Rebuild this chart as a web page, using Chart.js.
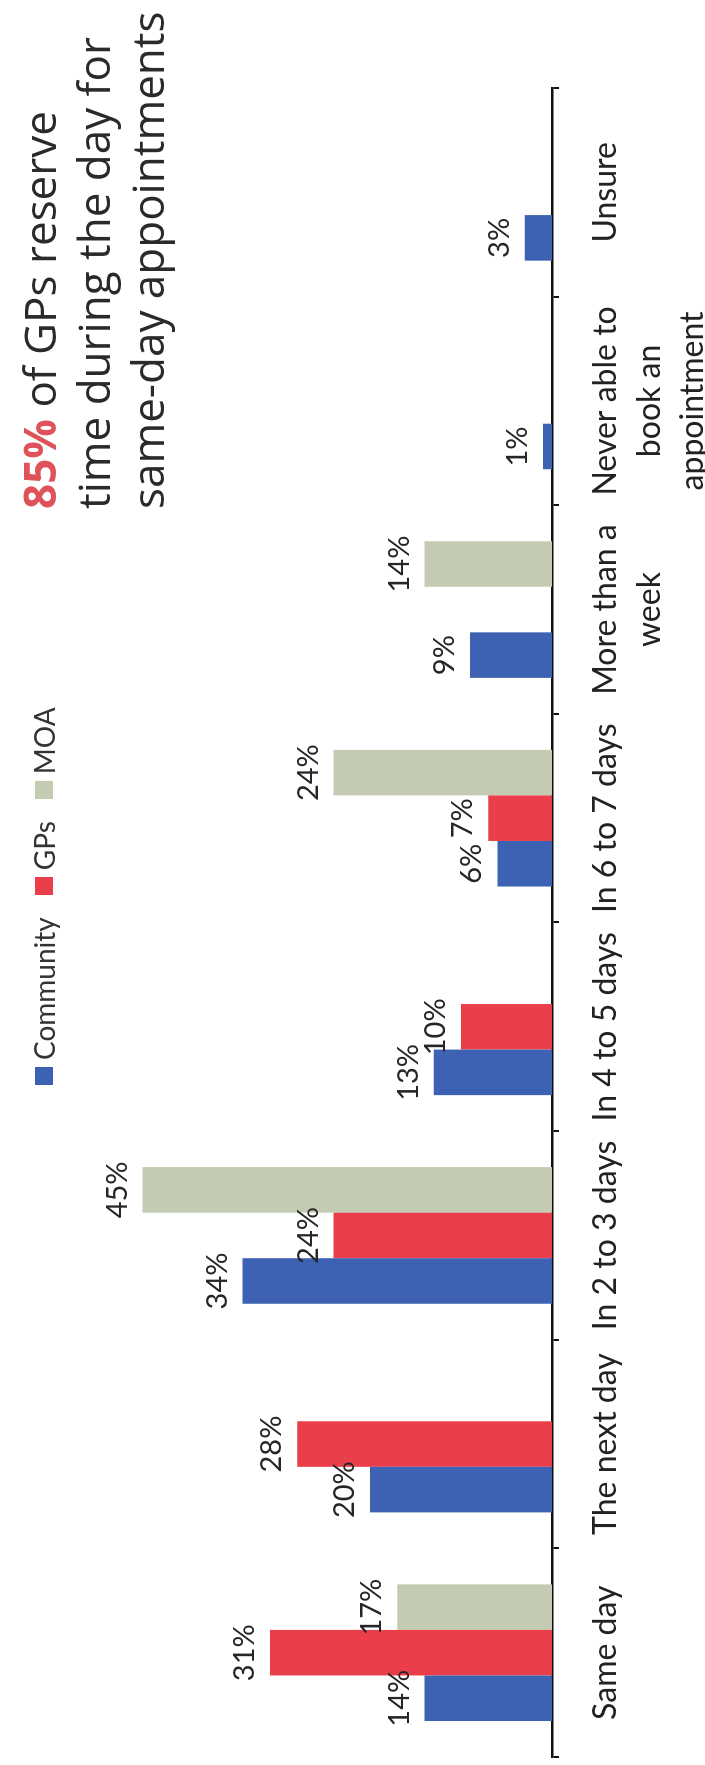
<!DOCTYPE html>
<html>
<head>
<meta charset="utf-8">
<title>Same-day appointments</title>
<script src="https://cdn.jsdelivr.net/npm/chart.js@4.4.1/dist/chart.umd.min.js"></script>
<style>
  html, body { margin: 0; padding: 0; background: #fff; }
  body { width: 705px; height: 1765px; overflow: hidden; position: relative; }
  /* the chart is drawn landscape and turned a quarter left */
  #stage { position: absolute; left: 0; top: 0; width: 1765px; height: 705px;
           transform-origin: 0 0; transform: translateY(1765px) rotate(-90deg); }
  #myChart { position: absolute; left: 0; top: 0; }
  #legend { position: absolute; left: 680px; top: 27px; display: flex; align-items: center;
            font: 28px 'Lato', sans-serif; color: #333; white-space: nowrap; }
  #legend .item { display: flex; align-items: center; margin-right: 22px; }
  #legend .box { width: 18px; height: 18px; margin-right: 7px; }
  #title { position: absolute; left: 1256px; top: 12px; font: 44px 'Open Sans', sans-serif;
           line-height: 54px; color: #2a2a2a; white-space: nowrap; }
  #title .hl { color: #e0525a; font-weight: 700; }
</style>
</head>
<body>
<div id="stage">
  <canvas id="myChart" width="1765" height="705"></canvas>
  <div id="legend"></div>
  <div id="title"><span class="hl">85%</span> of GPs reserve<br>time during the day for<br>same-day appointments</div>
</div>
<script>
// datos
const categories = [
  ['Same day'],
  ['The next day'],
  ['In 2 to 3 days'],
  ['In 4 to 5 days'],
  ['In 6 to 7 days'],
  ['More than a', 'week'],
  ['Never able to', 'book an', 'appointment'],
  ['Unsure']
];
const community = [14, 20, 34, 13, 6, 9, 1, 3];
const gps = [31, 28, 24, 10, 7, null, null, null];
const moa = [17, null, 45, null, 24, 14, null, null];

const seriesNames = ['Community', 'GPs', 'MOA'];
const seriesColors = ['#3e62b3', '#ea3f4a', '#c3ccb2'];

// leyenda en html
const legend = document.getElementById('legend');
seriesNames.forEach((name, i) => {
  const item = document.createElement('div');
  item.className = 'item';
  const box = document.createElement('span');
  box.className = 'box';
  box.style.background = seriesColors[i];
  item.appendChild(box);
  item.appendChild(document.createTextNode(name));
  legend.appendChild(item);
});

// etiquetas de valor sobre cada barra
const valueLabels = {
  id: 'valueLabels',
  afterDatasetsDraw(chart) {
    const ctx = chart.ctx;
    ctx.save();
    ctx.font = '29px Lato';
    ctx.fillStyle = '#262626';
    ctx.textAlign = 'center';
    ctx.textBaseline = 'alphabetic';
    chart.data.datasets.forEach((ds, i) => {
      chart.getDatasetMeta(i).data.forEach((bar, j) => {
        const v = ds.data[j];
        if (v === null || v === undefined) return;
        ctx.fillText(v + '%', bar.x, bar.y - 16);
      });
    });
    ctx.restore();
  }
};

const ctx = document.getElementById('myChart');
const seriesData = [community, gps, moa];

const myChart = new Chart(ctx, {
  type: 'bar',
  data: {
    labels: categories,
    datasets: seriesNames.map((name, i) => ({
      label: name,
      data: seriesData[i],
      backgroundColor: seriesColors[i],
      borderWidth: 0
    }))
  },
  options: {
    responsive: false,
    animation: false,
    devicePixelRatio: 1,
    layout: { padding: { left: 8, right: 88, top: 6, bottom: 0 } },
    datasets: { bar: { barPercentage: 1, categoryPercentage: 0.655 } },
    plugins: {
      legend: { display: false },
      title: { display: false },
      tooltip: { enabled: false }
    },
    scales: {
      x: {
        grid: { offset: true, drawOnChartArea: false, drawTicks: true, tickLength: 7, color: '#111', lineWidth: 2 },
        border: { display: true, color: '#111', width: 2.5 },
        ticks: {
          color: '#222', padding: 25, maxRotation: 0, autoSkip: false,
          font: { family: 'Lato', size: 32, lineHeight: 1.36 }
        },
        afterFit(scale) { scale.height = 153; }
      },
      y: { display: false, min: 0, max: 60 }
    }
  },
  plugins: [valueLabels]
});
</script>
</body>
</html>
